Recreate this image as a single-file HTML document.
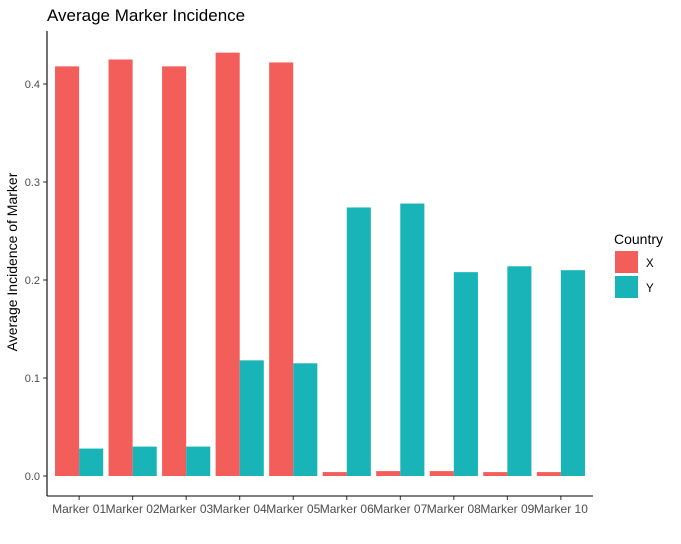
<!DOCTYPE html>
<html><head><meta charset="utf-8"><style>
body{margin:0;background:#fff;font-family:"Liberation Sans",sans-serif;}
</style></head><body>
<svg id="chart" width="681" height="539" xmlns="http://www.w3.org/2000/svg">
<text x="47" y="21" font-size="17" fill="#000">Average Marker Incidence</text>
<text transform="translate(17,262) rotate(-90)" text-anchor="middle" font-size="14" fill="#000">Average Incidence of Marker</text>
<g id="bars"></g>
<g id="axes"></g>
<g>
<text x="614" y="244" font-size="14">Country</text>
<rect x="615" y="251" width="23" height="22" fill="#F35E5A"/>
<text x="646" y="267" font-size="11.5">X</text>
<rect x="615" y="276" width="23" height="22" fill="#18B4B8"/>
<text x="646" y="292" font-size="11.5">Y</text>
</g>
</svg>
<script>
const categories=["Marker 01","Marker 02","Marker 03","Marker 04","Marker 05","Marker 06","Marker 07","Marker 08","Marker 09","Marker 10"];
const seriesX=[0.418,0.425,0.418,0.432,0.422,0.004,0.005,0.005,0.004,0.004];
const seriesY=[0.028,0.030,0.030,0.118,0.115,0.274,0.278,0.208,0.214,0.210];
const yTicks=[0,0.1,0.2,0.3,0.4];
const yTickLabels=["0.0","0.1","0.2","0.3","0.4"];
const NS="http://www.w3.org/2000/svg";
const L=47,R=593,T=31,B=496;
const y0=476,pxPer=980;
const yS=v=>y0-v*pxPer;
const unit=(R-L)/(categories.length-1+1.2);
const xS=i=>L+(0.6+i)*unit;
const bw=unit*0.45;
const bars=document.getElementById('bars'),axes=document.getElementById('axes');
function mk(tag,attrs,parent){const e=document.createElementNS(NS,tag);for(const k in attrs)e.setAttribute(k,attrs[k]);parent.appendChild(e);return e;}
categories.forEach((c,i)=>{
 const cx=xS(i);
 const a=mk('rect',{x:cx-bw,y:yS(seriesX[i]),width:bw,height:y0-yS(seriesX[i]),fill:'#F35E5A'},bars);
 
 
 const b=mk('rect',{x:cx,y:yS(seriesY[i]),width:bw,height:y0-yS(seriesY[i]),fill:'#18B4B8'},bars);
 
 
 mk('line',{x1:cx,x2:cx,y1:B,y2:B+4,stroke:'#333'},axes);
 const t=mk('text',{x:cx,y:B+17,'font-size':'12','text-anchor':'middle',fill:'#4d4d4d'},axes);
 t.textContent=c;
 
 
});
yTicks.forEach((v,i)=>{
 const y=yS(v);
 mk('line',{x1:L-4,x2:L,y1:y,y2:y,stroke:'#333'},axes);
 const t=mk('text',{x:L-7,y:y+4,'font-size':'11','text-anchor':'end',fill:'#4d4d4d'},axes);
 t.textContent=yTickLabels[i];
 
 
});
const ya=mk('line',{x1:L,x2:L,y1:T,y2:B,stroke:'#000','stroke-width':1.1},axes);


const xa=mk('line',{x1:L,x2:R,y1:B,y2:B,stroke:'#000','stroke-width':1.1},axes);


</script>
</body></html>
